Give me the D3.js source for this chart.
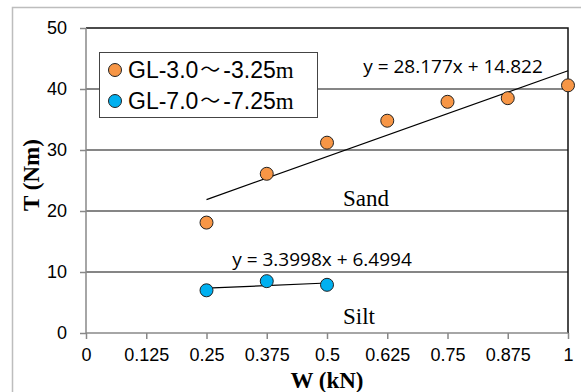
<!DOCTYPE html>
<html>
<head>
<meta charset="utf-8">
<script src="https://cdn.jsdelivr.net/npm/d3@7"></script>
<style>
body { margin: 0; background: #fff; }
</style>
</head>
<body>
<div id="chart"></div>
<script>
// torque T vs load W, two depths with linear trendlines

const sandW = [0.25, 0.375, 0.5, 0.625, 0.75, 0.875, 1.0]
const sandT = [18.1, 26.1, 31.2, 34.8, 37.9, 38.5, 40.6]
const siltW = [0.25, 0.375, 0.5]
const siltT = [7.0, 8.5, 7.9]
const sandFit = {slope: 28.177, intercept: 14.822, label: "y = 28.177x + 14.822"}
const siltFit = {slope: 3.3998, intercept: 6.4994, label: "y = 3.3998x + 6.4994"}
const xTicks = [0, 0.125, 0.25, 0.375, 0.5, 0.625, 0.75, 0.875, 1]
const yTicks = [0, 10, 20, 30, 40, 50]
const seriesNames = [["GL-3.0", "-3.25"], ["GL-7.0", "-7.25"]]
const seriesColors = ["#f79646", "#00b0f0"]

const W = 581, H = 392
const margin = {top: 28, right: 13, bottom: 59, left: 86}
const width = W - margin.left - margin.right,
	height = H - margin.top - margin.bottom

const root = d3.select("#chart").append("svg")
	.attr("width", W)
	.attr("height", H)

// outer frame
root.append("rect")
	.attr("x", 12.5).attr("y", 7.5)
	.attr("width", 600).attr("height", 400)
	.attr("fill", "none").attr("stroke", "#bdbdbd").attr("stroke-width", 1.5)

const svg = root.append("g")
	.attr("transform", `translate(${margin.left}, ${margin.top})`)

const x = d3.scaleLinear().domain([0, 1]).range([0, width])
const y = d3.scaleLinear().domain([0, 50]).range([height, 0])

// gridlines
svg.append("g")
	.selectAll("line")
	.data(yTicks.filter(d => d > 0 && d < 50))
	.join("line")
		.attr("x1", 0).attr("x2", width)
		.attr("y1", d => y(d)).attr("y2", d => y(d))
		.attr("stroke", "#5e5e5e").attr("stroke-width", 1.5)

// top and right frame
svg.append("path")
	.attr("d", `M0,${y(50)}H${x(1)}V${y(0)}`)
	.attr("fill", "none").attr("stroke", "#111").attr("stroke-width", 1.5)

const tickFont = "'Liberation Sans', Arial, sans-serif"

const xAxis = svg.append("g")
	.attr("transform", `translate(0, ${height})`)
	.call(d3.axisBottom(x).tickValues(xTicks).tickSize(6).tickPadding(9)
		.tickFormat(d3.format("")))
xAxis.selectAll("text").attr("font-size", 18).attr("font-family", tickFont).attr("fill", "#000")

const yAxis = svg.append("g")
	.call(d3.axisLeft(y).tickValues(yTicks).tickSize(6).tickPadding(13))
yAxis.selectAll("text").attr("font-size", 18).attr("font-family", tickFont).attr("fill", "#000")

root.selectAll(".domain, .tick line").attr("stroke", "#888").attr("stroke-width", 1.5)
xAxis.select(".domain").attr("d", `M0,0H${width}`)
yAxis.select(".domain").attr("d", `M0,${height}V0`)

// trendlines
function fitLine(fit, x0, x1) {
	return [[x0, fit.slope * x0 + fit.intercept], [x1, fit.slope * x1 + fit.intercept]]
}
const line = d3.line().x(d => x(d[0])).y(d => y(d[1]))
svg.append("path")
	.attr("d", line(fitLine(sandFit, d3.min(sandW), d3.max(sandW))))
	.attr("stroke", "#000").attr("stroke-width", 1.2).attr("fill", "none")
svg.append("path")
	.attr("d", line(fitLine(siltFit, d3.min(siltW), d3.max(siltW))))
	.attr("stroke", "#000").attr("stroke-width", 1.2).attr("fill", "none")

// points
svg.append("g").selectAll("circle")
	.data(sandW.map((w, i) => [w, sandT[i]]))
	.join("circle")
		.attr("cx", d => x(d[0])).attr("cy", d => y(d[1])).attr("r", 6.5)
		.attr("fill", seriesColors[0]).attr("stroke", "#222").attr("stroke-width", 1)
svg.append("g").selectAll("circle")
	.data(siltW.map((w, i) => [w, siltT[i]]))
	.join("circle")
		.attr("cx", d => x(d[0])).attr("cy", d => y(d[1])).attr("r", 6.5)
		.attr("fill", seriesColors[1]).attr("stroke", "#222").attr("stroke-width", 1)

// equation labels
const eqFont = "'Open Sans', 'Liberation Sans', sans-serif"
root.append("text").attr("x", 453).attr("y", 73)
	.attr("text-anchor", "middle").attr("font-size", 19).attr("font-family", eqFont)
	.text(sandFit.label)
root.append("text").attr("x", 322).attr("y", 266)
	.attr("text-anchor", "middle").attr("font-size", 19).attr("font-family", eqFont)
	.text(siltFit.label)

// soil labels
const serif = "'Liberation Serif', 'DejaVu Serif', serif"
root.append("text").attr("x", 366).attr("y", 206)
	.attr("text-anchor", "middle").attr("font-size", 23).attr("font-family", serif)
	.text("Sand")
root.append("text").attr("x", 359).attr("y", 324)
	.attr("text-anchor", "middle").attr("font-size", 23).attr("font-family", serif)
	.text("Silt")

// axis titles
root.append("text").attr("x", 327).attr("y", 388)
	.attr("text-anchor", "middle").attr("font-size", 23).attr("font-weight", "bold")
	.attr("font-family", serif)
	.text("W (kN)")
root.append("text")
	.attr("transform", "translate(39, 175) rotate(-90)")
	.attr("text-anchor", "middle").attr("font-size", 23).attr("font-weight", "bold")
	.attr("font-family", serif)
	.text("T (Nm)")

// legend
const legend = root.append("g")
legend.append("rect")
	.attr("x", 99.5).attr("y", 52.5).attr("width", 218).attr("height", 65)
	.attr("fill", "#fff").attr("stroke", "#444").attr("stroke-width", 1)
const items = legend.selectAll("g.item")
	.data(seriesNames)
	.join("g")
		.attr("class", "item")
		.attr("transform", (d, i) => `translate(115, ${70 + i * 31})`)
items.append("circle").attr("r", 6.5)
	.attr("fill", (d, i) => seriesColors[i]).attr("stroke", "#222").attr("stroke-width", 1)
const lt = items.append("text").attr("x", 13).attr("y", 8)
	.attr("font-size", 23).attr("font-family", "'Liberation Sans', Arial, sans-serif")
lt.append("tspan").text(d => d[0])
lt.append("tspan").attr("font-family", "'Noto Sans CJK JP', sans-serif")
	.attr("font-size", 20).attr("dx", 2).attr("dy", -1).text("～")
lt.append("tspan").attr("dx", 3).attr("dy", 1).text(d => d[1])
lt.append("tspan").attr("font-family", serif).text("m")
</script>
</body>
</html>
